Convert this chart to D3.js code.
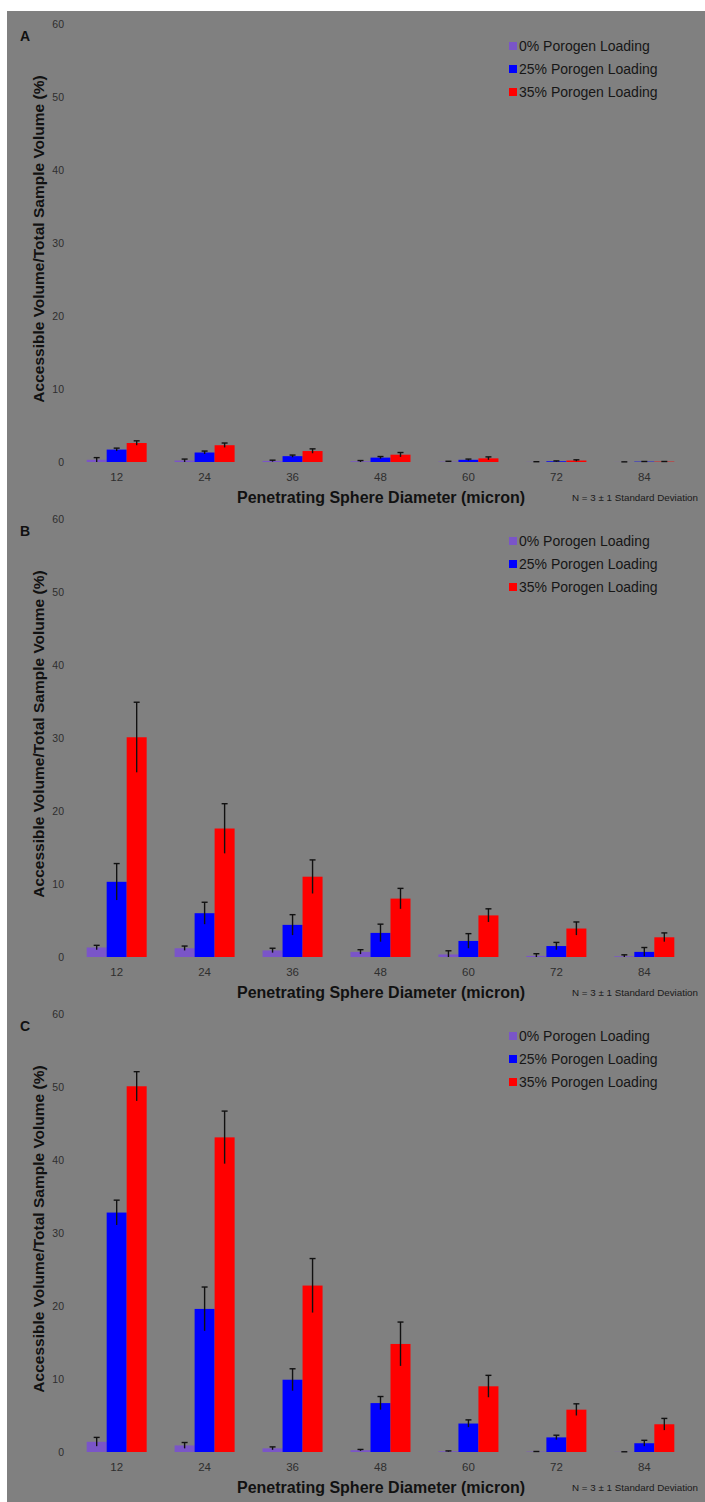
<!DOCTYPE html>
<html>
<head>
<meta charset="utf-8">
<script src="https://cdn.jsdelivr.net/npm/d3@7"></script>
<style>
  html, body { margin: 0; padding: 0; background: #ffffff; }
  svg { display: block; }
  text { font-family: "Liberation Sans", Arial, sans-serif; }
</style>
</head>
<body>
<svg id="chart" width="705" height="1502"></svg>
<script>
// Sphere diameters (micron) on the x axis
const categories = ["12", "24", "36", "48", "60", "72", "84"];
const seriesNames = ["0% Porogen Loading", "25% Porogen Loading", "35% Porogen Loading"];
const seriesColors = ["#7a55c8", "#0000ff", "#ff0000"];
const yTicks = [0, 10, 20, 30, 40, 50, 60];
const panelLabels = ["A", "B", "C"];

// Panel A: mean accessible volume (%) and one standard deviation
const a0 = [0.3, 0.2, 0.15, 0.1, 0.05, 0.02, 0.01];
const a0Err = [0.3, 0.2, 0.1, 0.1, 0.05, 0.02, 0.01];
const a25 = [1.7, 1.3, 0.8, 0.6, 0.3, 0.1, 0.05];
const a25Err = [0.2, 0.2, 0.15, 0.15, 0.1, 0.05, 0.02];
const a35 = [2.6, 2.3, 1.5, 1.0, 0.5, 0.2, 0.05];
const a35Err = [0.3, 0.3, 0.3, 0.3, 0.2, 0.1, 0.02];

// Panel B
const b0 = [1.3, 1.2, 0.9, 0.7, 0.35, 0.15, 0.1];
const b0Err = [0.3, 0.3, 0.3, 0.3, 0.5, 0.3, 0.2];
const b25 = [10.3, 6.0, 4.4, 3.3, 2.2, 1.5, 0.7];
const b25Err = [2.5, 1.5, 1.4, 1.2, 1.0, 0.5, 0.6];
const b35 = [30.1, 17.6, 11.0, 8.0, 5.7, 3.9, 2.7];
const b35Err = [4.8, 3.4, 2.3, 1.4, 0.9, 0.9, 0.6];

// Panel C
const c0 = [1.4, 0.9, 0.5, 0.25, 0.1, 0.05, 0.02];
const c0Err = [0.6, 0.4, 0.2, 0.1, 0.05, 0.02, 0.01];
const c25 = [32.8, 19.6, 9.9, 6.7, 3.9, 2.0, 1.2];
const c25Err = [1.7, 3.0, 1.5, 0.9, 0.5, 0.3, 0.4];
const c35 = [50.1, 43.1, 22.8, 14.8, 9.0, 5.8, 3.8];
const c35Err = [2.0, 3.6, 3.7, 3.0, 1.5, 0.8, 0.8];

const panels = [
  { label: panelLabels[0], values: [a0, a25, a35], errors: [a0Err, a25Err, a35Err] },
  { label: panelLabels[1], values: [b0, b25, b35], errors: [b0Err, b25Err, b35Err] },
  { label: panelLabels[2], values: [c0, c25, c35], errors: [c0Err, c25Err, c35Err] }
];

const svg = d3.select("#chart");
svg.append("rect")
  .attr("x", 7).attr("y", 11)
  .attr("width", 705 - 7).attr("height", 1502 - 11)
  .attr("fill", "#808080");

const panelHeight = 495;

// Shared scales (per-panel vertical offset applied with a transform)
const x = d3.scaleBand()
  .domain(categories)
  .range([72.7, 688.3])
  .paddingInner(1 - 60 / 87.94)
  .paddingOuter((1 - 60 / 87.94) / 2);

const xSeries = d3.scaleBand()
  .domain(d3.range(seriesNames.length))
  .range([0, x.bandwidth()])
  .padding(0);

const y = d3.scaleLinear().domain([0, 60]).range([462, 24]);

panels.forEach((p, pi) => {
  const g = svg.append("g").attr("transform", `translate(0, ${pi * panelHeight})`);

  // panel letter
  g.append("text")
    .attr("x", 25).attr("y", 41)
    .attr("text-anchor", "middle")
    .attr("font-size", 14).attr("font-weight", "bold")
    .attr("fill", "#111")
    .text(p.label);

  // y tick labels
  g.append("g")
    .selectAll("text")
    .data(yTicks)
    .join("text")
    .attr("x", 64)
    .attr("y", d => y(d))
    .attr("dy", "0.35em")
    .attr("text-anchor", "end")
    .attr("font-size", 10.5)
    .attr("fill", "#2e2e2e")
    .text(d => d);

  // y title
  g.append("text")
    .attr("transform", `translate(44, ${(y(0) + y(60)) / 2 - 4}) rotate(-90)`)
    .attr("text-anchor", "middle")
    .attr("font-size", 15.5).attr("font-weight", "bold")
    .attr("fill", "#111")
    .text("Accessible Volume/Total Sample Volume (%)");

  // bars
  const groups = g.append("g")
    .selectAll("g")
    .data(categories)
    .join("g")
    .attr("transform", d => `translate(${x(d)},0)`);

  groups.selectAll("rect")
    .data((d, i) => p.values.map((vals, s) => ({ s, v: vals[i], e: p.errors[s][i] })))
    .join("rect")
    .attr("x", d => xSeries(d.s))
    .attr("width", xSeries.bandwidth())
    .attr("y", d => y(d.v))
    .attr("height", d => y(0) - y(d.v))
    .attr("fill", d => seriesColors[d.s]);

  // error bars (± 1 SD)
  const eb = groups.selectAll("g.err")
    .data((d, i) => p.values.map((vals, s) => ({ s, v: vals[i], e: p.errors[s][i] })))
    .join("g")
    .attr("class", "err")
    .attr("stroke", "#111")
    .attr("stroke-width", 1.4);

  const cx = d => xSeries(d.s) + xSeries.bandwidth() / 2;
  eb.append("line")
    .attr("x1", cx).attr("x2", cx)
    .attr("y1", d => y(Math.max(0, d.v - d.e)))
    .attr("y2", d => y(d.v + d.e));
  eb.append("line")
    .attr("x1", d => cx(d) - 3).attr("x2", d => cx(d) + 3)
    .attr("y1", d => y(d.v + d.e)).attr("y2", d => y(d.v + d.e));

  // x tick labels
  g.append("g")
    .selectAll("text")
    .data(categories)
    .join("text")
    .attr("x", d => x(d) + x.bandwidth() / 2)
    .attr("y", y(0) + 19)
    .attr("text-anchor", "middle")
    .attr("font-size", 11.5)
    .attr("fill", "#2e2e2e")
    .text(d => d);

  // x title
  g.append("text")
    .attr("x", 381).attr("y", y(0) + 41)
    .attr("text-anchor", "middle")
    .attr("font-size", 16).attr("font-weight", "bold")
    .attr("fill", "#111")
    .text("Penetrating Sphere Diameter (micron)");

  // sample-size note
  g.append("text")
    .attr("x", 572).attr("y", y(0) + 39)
    .attr("font-size", 9.8)
    .attr("fill", "#1a1a1a")
    .text("N = 3 \u00B1 1 Standard Deviation");

  // legend
  const lg = g.append("g")
    .selectAll("g")
    .data(seriesNames)
    .join("g")
    .attr("transform", (d, i) => `translate(509, ${46 + i * 23})`);
  lg.append("rect")
    .attr("x", 0).attr("y", -4)
    .attr("width", 8).attr("height", 8)
    .attr("fill", (d, i) => seriesColors[i]);
  lg.append("text")
    .attr("x", 10).attr("dy", "0.35em")
    .attr("font-size", 14)
    .attr("fill", "#161616")
    .text(d => d);
});
</script>
</body>
</html>
